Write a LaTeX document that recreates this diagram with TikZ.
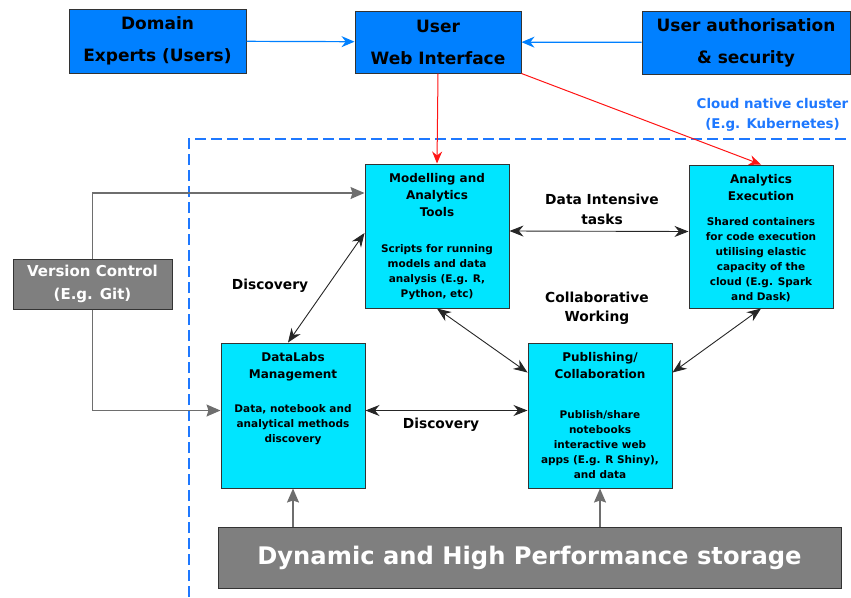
\documentclass[tikz,border=0pt]{standalone}
\usepackage{fontspec}
\setmainfont{DejaVu Sans}
\usetikzlibrary{arrows.meta,
	positioning}
\definecolor{topblue}{RGB}{0,128,255}
\definecolor{boxcyan}{RGB}{0,229,255}
\definecolor{clusterblue}{RGB}{30,120,255}
\definecolor{vcgray}{RGB}{127,127,127}
\definecolor{linegray}{RGB}{110,110,110}
\definecolor{redline}{RGB}{255,20,20}

\begin{document}
\begin{tikzpicture}[x=1pt,y=-1pt]
    \tikzstyle{topbox}=[draw=black!80,fill=topblue,line width=1pt,align=center,inner sep=0pt,font=\fontsize{17}{32}\selectfont\bfseries]
    \tikzstyle{toolbox}=[draw=black!80,fill=boxcyan,line width=1pt,minimum width=144pt,inner sep=0pt]
    \tikzstyle{greybox}=[draw=black!80,fill=vcgray,line width=1pt,align=center,inner sep=0pt,text=white]
    \tikzstyle{boxtitle}=[align=center,inner sep=0pt,font=\fontsize{12}{17}\selectfont\bfseries]
    \tikzstyle{boxbody}=[align=center,inner sep=0pt,font=\fontsize{10.5}{15}\selectfont\bfseries]
    \tikzstyle{linklabel}=[align=center,inner sep=0pt,font=\fontsize{13.8}{19.5}\selectfont\bfseries]
    \tikzstyle{twoway}=[{Stealth[length=14pt,width=11pt]}-{Stealth[length=14pt,width=11pt]},line width=0.9pt,black!85]
    \tikzstyle{blueline}=[-{Stealth[length=13pt,width=11pt]},line width=1.2pt,topblue]
    \tikzstyle{redarrow}=[-{Stealth[length=12pt,width=10pt]},line width=1pt,redline]
    \tikzstyle{greyline}=[-{Stealth[length=14pt,width=12pt,inset=2pt]},line width=1.4pt,linegray]
    \useasboundingbox (0,0) rectangle (851,597);

    % cluster outline
    \draw[clusterblue,line width=2.4pt,dash pattern=on 11pt off 5pt] (189,597) |- (851,139);
    \node[linklabel,text=clusterblue,font=\fontsize{13.4}{20}\selectfont\bfseries] (cluster) at (772.5,115) {Cloud native cluster\\(E.g. Kubernetes)};

    % top row
    \node[topbox,minimum width=177pt,minimum height=64pt] (experts) at (157.5,41) {Domain\\Experts (Users)};
    \node[topbox,minimum width=166pt,minimum height=62pt] (webui) at (438,42) {User\\Web Interface};
    \node[topbox,minimum width=208pt,minimum height=63pt] (auth) at (746,42.5) {User authorisation\\\& security};

    % tool boxes
    \node[toolbox,minimum height=144pt] (model) at (437,236) {};
    \node[toolbox,minimum height=143pt] (exec) at (761,236.5) {};
    \node[toolbox,minimum height=145pt] (datalabs) at (293,415.5) {};
    \node[toolbox,minimum height=145pt] (publish) at (600,415.5) {};

    \node[boxtitle,below=10pt of model.north] (model_t) {Modelling and\\Analytics\\Tools};
    \node[boxbody,below=81pt of model.north] (model_b) {Scripts for running\\models and data\\analysis (E.g. R,\\Python, etc)};
    \node[boxtitle,below=10pt of exec.north] (exec_t) {Analytics\\Execution};
    \node[boxbody,below=53pt of exec.north] (exec_b) {Shared containers\\for code execution\\utilising elastic\\capacity of the\\cloud (E.g. Spark\\and Dask)};
    \node[boxtitle,below=10pt of datalabs.north] (datalabs_t) {DataLabs\\Management};
    \node[boxbody,below=62pt of datalabs.north] (datalabs_b) {Data, notebook and\\analytical methods\\discovery};
    \node[boxtitle,below=10pt of publish.north] (publish_t) {Publishing/\\Collaboration};
    \node[boxbody,below=68pt of publish.north] (publish_b) {Publish/share\\notebooks\\interactive web\\apps (E.g. R Shiny),\\and data};

    % grey boxes
    \node[greybox,minimum width=159pt,minimum height=50pt,font=\fontsize{15}{23}\selectfont\bfseries] (git) at (92.5,284) {Version Control\\(E.g. Git)};
    \node[greybox,minimum width=623pt,minimum height=61pt,font=\fontsize{24.2}{28}\selectfont\bfseries] (storage) at (529.5,557.5) {Dynamic and High Performance storage};

    % labels
    \node[linklabel] (l_data) at (602,209.5) {Data Intensive\\tasks};
    \node[linklabel] (l_disc1) at (270,286) {Discovery};
    \node[linklabel] (l_collab) at (597,308) {Collaborative\\Working};
    \node[linklabel] (l_disc2) at (441,425) {Discovery};

    % connectors
    \draw[blueline] (experts) -- (webui);
    \draw[blueline] (auth) -- (webui);
    \draw[redarrow] (webui.south) -- (model.north);
    \draw[redarrow] (webui.south east) -- (exec.north);
    \draw[twoway] ([yshift=5pt]model.east) -- ([yshift=5pt]exec.west);
    \draw[twoway] ([yshift=3pt]model.west) -- ([xshift=-5pt]datalabs.north);
    \draw[twoway] (model.south) -- ([yshift=-30pt]publish.north west);
    \draw[twoway] (exec.south) -- ([yshift=-30pt]publish.north east);
    \draw[twoway] ([yshift=5pt]datalabs.east) -- ([yshift=5pt]publish.west);
    \draw[greyline] (git.north) |- ([yshift=43pt]model.west);
    \draw[greyline] (git.south) |- ([yshift=5pt]datalabs.west);
    \draw[greyline] (storage.north -| datalabs.south) -- (datalabs.south);
    \draw[greyline] (storage.north -| publish.south) -- (publish.south);
\end{tikzpicture}
\end{document}
